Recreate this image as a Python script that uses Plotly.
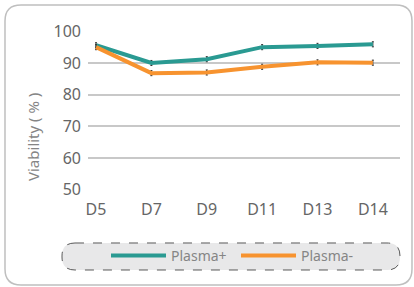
import plotly.graph_objects as go

days = ["D5", "D7", "D9", "D11", "D13", "D14"]
plasma_plus = [95.6, 90.0, 91.2, 95.0, 95.4, 95.9]
plasma_minus = [95.0, 86.8, 87.0, 88.8, 90.2, 90.1]
err_plus = [0.8, 0.8, 0.8, 0.8, 0.8, 0.8]
err_minus = [0.8, 0.8, 0.8, 0.8, 0.8, 0.8]
y_ticks = [50, 60, 70, 80, 90, 100]

W, H = 414, 287
L, R, T, B = 88, 14, 31, 97
PW, PH = W - L - R, H - T - B

def px(x):
    return (x - L) / PW

def py(y):
    return (H - B - y) / PH

def rrect(x0, y0, x1, y1, r):
    p = lambda x, y: f"{px(x):.5f},{py(y):.5f}"
    return (f"M {p(x0 + r, y0)} L {p(x1 - r, y0)} Q {p(x1, y0)} {p(x1, y0 + r)} "
            f"L {p(x1, y1 - r)} Q {p(x1, y1)} {p(x1 - r, y1)} "
            f"L {p(x0 + r, y1)} Q {p(x0, y1)} {p(x0, y1 - r)} "
            f"L {p(x0, y0 + r)} Q {p(x0, y0)} {p(x0 + r, y0)} Z")

teal = "#2A9A92"
orange = "#F7932F"
font = "Noto Sans"
tick_color = "#666666"

fig = go.Figure()
fig.add_trace(go.Scatter(
    x=days, y=plasma_plus, name="Plasma+", mode="lines",
    line=dict(color=teal, width=4),
    error_y=dict(type="data", array=err_plus, color="#333333", thickness=1, width=1),
))
fig.add_trace(go.Scatter(
    x=days, y=plasma_minus, name="Plasma-", mode="lines",
    line=dict(color=orange, width=4),
    error_y=dict(type="data", array=err_minus, color="#333333", thickness=1, width=1),
))

fig.update_layout(
    width=W, height=H,
    margin=dict(l=L, r=R, t=T, b=B, autoexpand=False),
    paper_bgcolor="white", plot_bgcolor="white",
    font=dict(family=font, color=tick_color),
    showlegend=True,
    legend=dict(
        orientation="h", xanchor="center", yanchor="middle",
        x=px(236), y=py(256),
        bgcolor="rgba(0,0,0,0)", borderwidth=0,
        font=dict(size=14, color="#858585", family=font),
        itemwidth=55, entrywidth=60,
    ),
    shapes=[
        dict(type="path", xref="paper", yref="paper", path=rrect(5, 5, 412, 285, 16),
             line=dict(color="#bfbfbf", width=1.5), fillcolor="rgba(0,0,0,0)", layer="below"),
        dict(type="path", xref="paper", yref="paper", path=rrect(62, 243, 400, 270, 13),
             line=dict(color="#595959", width=1, dash="dash"), fillcolor="#e8e8e9", layer="below"),
    ],
    annotations=[
        dict(text="Viability ( % )", xref="paper", yref="paper", x=px(33), y=py(137),
             showarrow=False, textangle=-90, font=dict(size=15, color="#858585", family=font),
             xanchor="center", yanchor="middle"),
    ],
)
fig.update_xaxes(
    type="category", range=[-0.145, 5.49],
    showgrid=False, showline=False, zeroline=False,
    ticks="", ticklabelstandoff=8,
    tickfont=dict(size=16, color=tick_color, family=font),
)
fig.update_yaxes(
    range=[49.9, 100.1], tickvals=y_ticks,
    showgrid=True, gridcolor="#c8c8c8", gridwidth=1.5,
    showline=False, zeroline=False, ticks="", ticklabelstandoff=6,
    tickfont=dict(size=16, color=tick_color, family=font),
)

fig.write_html("out.html", config={"displayModeBar": False},
               post_script="document.body.style.margin='0';")
